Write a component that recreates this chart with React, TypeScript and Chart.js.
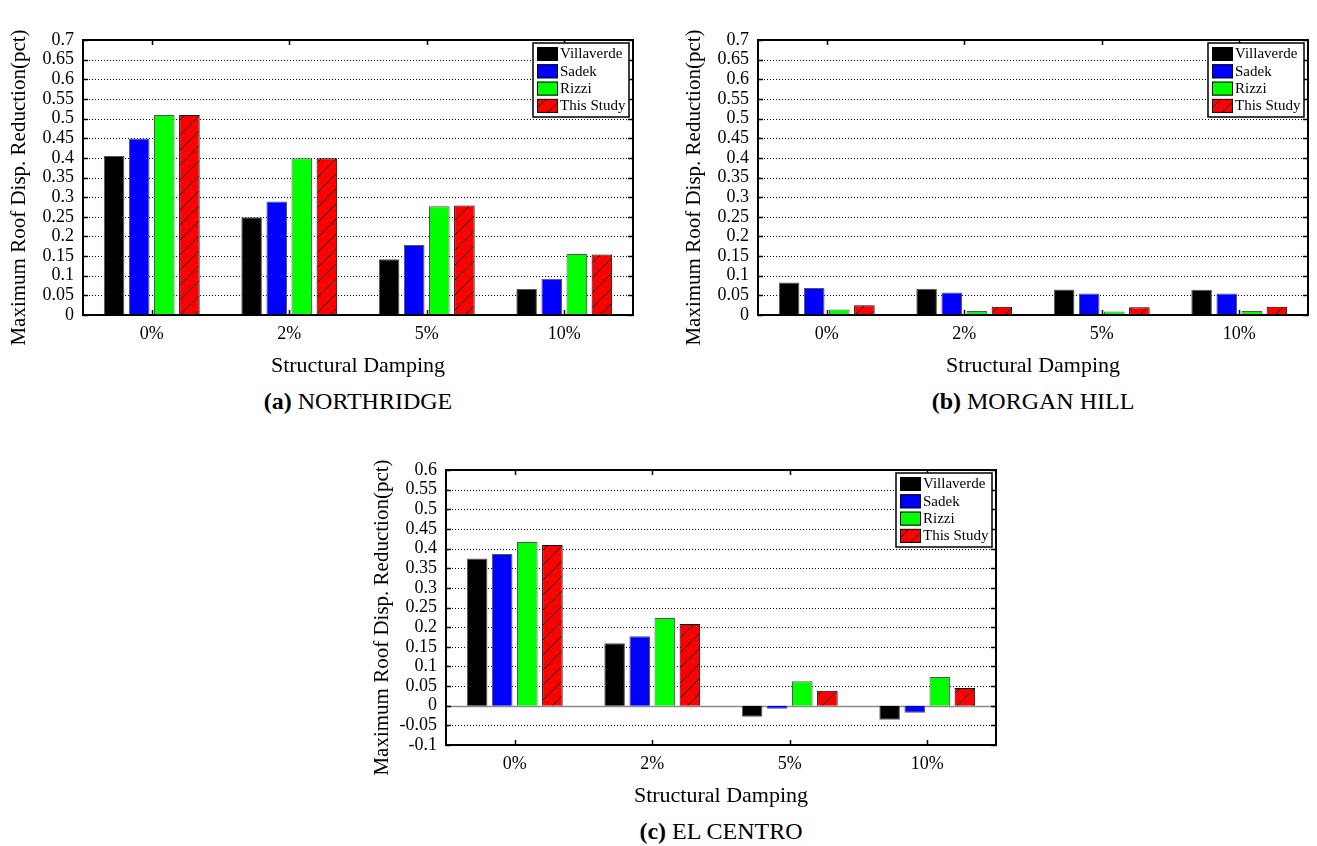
import React, { useEffect, useRef } from 'react';
import { Chart, registerables } from 'chart.js';

Chart.register(...registerables);

// ---------- data ----------
const categories = ['0%', '2%', '5%', '10%'];
const seriesNames = ['Villaverde', 'Sadek', 'Rizzi', 'This Study'];

// (a) NORTHRIDGE
const villaverdeA = [0.405, 0.249, 0.142, 0.066];
const sadekA = [0.449, 0.289, 0.178, 0.092];
const rizziA = [0.509, 0.399, 0.277, 0.155];
const thisStudyA = [0.509, 0.399, 0.279, 0.154];

// (b) MORGAN HILL
const villaverdeB = [0.083, 0.067, 0.065, 0.064];
const sadekB = [0.069, 0.057, 0.055, 0.055];
const rizziB = [0.014, 0.010, 0.009, 0.010];
const thisStudyB = [0.025, 0.021, 0.020, 0.021];

// (c) EL CENTRO
const villaverdeC = [0.375, 0.159, -0.028, -0.036];
const sadekC = [0.386, 0.177, -0.008, -0.018];
const rizziC = [0.417, 0.223, 0.062, 0.073];
const thisStudyC = [0.409, 0.208, 0.038, 0.045];

const yTicksAB = [0, 0.05, 0.1, 0.15, 0.2, 0.25, 0.3, 0.35, 0.4, 0.45, 0.5, 0.55, 0.6, 0.65, 0.7];
const yTicksC = [-0.1, -0.05, 0, 0.05, 0.1, 0.15, 0.2, 0.25, 0.3, 0.35, 0.4, 0.45, 0.5, 0.55, 0.6];

const xTitle = 'Structural Damping';
const yTitle = 'Maximum Roof Disp. Reduction(pct)';

// ---------- style ----------
const FONT = '"Liberation Serif", "Times New Roman", serif';
const seriesColors = ['#000000', '#0000ff', '#00ff00', '#ff0000'];

function makeHatch(): CanvasPattern | string {
  const s = 15;
  const c = document.createElement('canvas');
  c.width = s;
  c.height = s;
  const g = c.getContext('2d');
  if (!g) return '#ff0000';
  g.fillStyle = '#ff0000';
  g.fillRect(0, 0, s, s);
  g.strokeStyle = '#000000';
  g.lineWidth = 1;
  g.beginPath();
  g.moveTo(0, s);
  g.lineTo(s, 0);
  g.moveTo(-s / 2, s / 2);
  g.lineTo(s / 2, -s / 2);
  g.moveTo(s / 2, s * 1.5);
  g.lineTo(s * 1.5, s / 2);
  g.stroke();
  return g.createPattern(c, 'repeat') || '#ff0000';
}

const framePlugin = {
  id: 'matlabFrame',
  beforeDatasetsDraw(chart: any) {
    const { ctx, chartArea: a, scales } = chart;
    const y = scales.y;
    ctx.save();
    ctx.strokeStyle = '#000';
    ctx.lineWidth = 1;
    ctx.setLineDash([1, 2]);
    y.ticks.forEach((t: any) => {
      if (t.value <= y.min + 1e-9 || t.value >= y.max - 1e-9) return;
      if (Math.abs(t.value) < 1e-9) return;
      const py = Math.round(y.getPixelForValue(t.value)) + 0.5;
      ctx.beginPath();
      ctx.moveTo(a.left, py);
      ctx.lineTo(a.right, py);
      ctx.stroke();
    });
    ctx.setLineDash([]);
    if (y.min < 0) {
      const p0 = Math.round(y.getPixelForValue(0)) + 0.5;
      ctx.strokeStyle = '#8a8a8a';
      ctx.lineWidth = 1.5;
      ctx.beginPath();
      ctx.moveTo(a.left, p0);
      ctx.lineTo(a.right, p0);
      ctx.stroke();
    }
    ctx.restore();
  },
  afterDraw(chart: any) {
    const { ctx, chartArea: a, scales } = chart;
    const x = scales.x;
    const y = scales.y;
    ctx.save();
    // tick marks (inward)
    ctx.strokeStyle = '#000';
    ctx.lineWidth = 1.5;
    const tl = 5;
    y.ticks.forEach((t: any) => {
      const py = Math.round(y.getPixelForValue(t.value)) + 0.5;
      ctx.beginPath();
      ctx.moveTo(a.left, py);
      ctx.lineTo(a.left + tl, py);
      ctx.moveTo(a.right, py);
      ctx.lineTo(a.right - tl, py);
      ctx.stroke();
    });
    x.ticks.forEach((_t: any, i: number) => {
      const px = Math.round(x.getPixelForTick(i)) + 0.5;
      ctx.beginPath();
      ctx.moveTo(px, a.top);
      ctx.lineTo(px, a.top + tl);
      ctx.moveTo(px, a.bottom);
      ctx.lineTo(px, a.bottom - tl);
      ctx.stroke();
    });
    // frame
    ctx.lineWidth = 2;
    ctx.strokeRect(a.left, a.top, a.right - a.left, a.bottom - a.top);

    // y-axis title (rotated)
    ctx.save();
    ctx.fillStyle = '#000';
    ctx.font = `21px ${FONT}`;
    ctx.textAlign = 'center';
    ctx.textBaseline = 'middle';
    ctx.translate(19, (a.top + a.bottom) / 2 + 10);
    ctx.rotate(-Math.PI / 2);
    ctx.fillText(yTitle, 0, 0);
    ctx.restore();

    // legend box
    const bw = 96;
    const bh = 74;
    const bx = a.right - 4 - bw;
    const by = a.top + 3;
    ctx.fillStyle = '#fff';
    ctx.fillRect(bx, by, bw, bh);
    ctx.lineWidth = 1.5;
    ctx.strokeStyle = '#000';
    ctx.strokeRect(bx, by, bw, bh);
    ctx.font = `15px ${FONT}`;
    ctx.textBaseline = 'middle';
    ctx.textAlign = 'left';
    chart.data.datasets.forEach((ds: any, i: number) => {
      const ry = by + 4 + i * 17.3;
      ctx.fillStyle = ds.backgroundColor;
      ctx.fillRect(bx + 4, ry, 21, 14);
      ctx.lineWidth = 1;
      ctx.strokeStyle = '#000';
      ctx.strokeRect(bx + 4.5, ry + 0.5, 20, 13);
      ctx.fillStyle = '#000';
      ctx.fillText(ds.label, bx + 27, ry + 7.5);
    });
    ctx.restore();
  },
};

function fmt(v: number) {
  const r = Math.round(v * 100) / 100;
  return String(r);
}

type PanelDef = {
  left: number;
  top: number;
  w: number;
  h: number;
  padRight: number;
  values: number[][];
  yTicks: number[];
  capLetter: string;
  capText: string;
};

const PLOT_LEFT = 83;
const PLOT_TOP = 40;
const XAXIS_H = 70;

const panels: PanelDef[] = [
  { left: 0, top: 0, w: 660, h: 385, padRight: 27, values: [villaverdeA, sadekA, rizziA, thisStudyA], yTicks: yTicksAB, capLetter: '(a)', capText: 'NORTHRIDGE' },
  { left: 675, top: 0, w: 642, h: 385, padRight: 9, values: [villaverdeB, sadekB, rizziB, thisStudyB], yTicks: yTicksAB, capLetter: '(b)', capText: 'MORGAN HILL' },
  { left: 363, top: 430, w: 660, h: 385, padRight: 27, values: [villaverdeC, sadekC, rizziC, thisStudyC], yTicks: yTicksC, capLetter: '(c)', capText: 'EL CENTRO' },
];

function PanelChart({ p }: { p: PanelDef }) {
  const ref = useRef<HTMLCanvasElement | null>(null);
  useEffect(() => {
    if (!ref.current) return;
    const hatch = makeHatch();
    const ticks = p.yTicks;
    const chart = new Chart(ref.current, {
      type: 'bar',
      data: {
        labels: categories,
        datasets: p.values.map((vals, i) => ({
          label: seriesNames[i],
          data: vals,
          backgroundColor: i === 3 ? (hatch as any) : seriesColors[i],
          borderColor: i === 3 ? '#000' : '#555555',
          borderWidth: 1,
          categoryPercentage: 0.73,
          barPercentage: 0.82,
        })),
      },
      options: {
        animation: false,
        responsive: false,
        maintainAspectRatio: false,
        devicePixelRatio: 1,
        layout: { padding: { top: PLOT_TOP, right: p.padRight, left: 0, bottom: 0 } },
        plugins: { legend: { display: false }, tooltip: { enabled: false } },
        scales: {
          x: {
            grid: { display: false, drawTicks: false },
            border: { display: false },
            ticks: { color: '#000', font: { family: FONT, size: 18 }, padding: 8, autoSkip: false, maxRotation: 0 },
            title: { display: true, text: xTitle, color: '#000', font: { family: FONT, size: 22 }, padding: { top: 0, bottom: 6 } },
            afterFit: (s: any) => {
              s.height = XAXIS_H;
            },
          },
          y: {
            min: ticks[0],
            max: ticks[ticks.length - 1],
            grid: { display: false, drawTicks: false },
            border: { display: false },
            ticks: {
              color: '#000',
              font: { family: FONT, size: 18, lineHeight: 1 },
              padding: 9,
              autoSkip: false,
              callback: (v: any) => fmt(Number(v)),
            },
            afterBuildTicks: (s: any) => {
              s.ticks = ticks.map((v) => ({ value: v }));
            },
            title: { display: false, text: yTitle },
            afterFit: (s: any) => {
              s.width = PLOT_LEFT;
            },
          },
        },
      },
      plugins: [framePlugin],
    } as any);
    return () => chart.destroy();
  }, [p]);

  const plotCenter = p.left + PLOT_LEFT + (p.w - p.padRight - PLOT_LEFT) / 2;
  return (
    <>
      <canvas
        ref={ref}
        width={p.w}
        height={p.h}
        style={{ position: 'absolute', left: p.left, top: p.top, width: p.w, height: p.h }}
      />
      <div
        style={{
          position: 'absolute',
          left: plotCenter - 200,
          top: p.top + p.h + 2,
          width: 400,
          textAlign: 'center',
          fontFamily: FONT,
          fontSize: 24,
          lineHeight: '28px',
          color: '#000',
          whiteSpace: 'nowrap',
        }}
      >
        <b>{p.capLetter}</b> {p.capText}
      </div>
    </>
  );
}

export default function App() {
  return (
    <div
      style={{
        position: 'absolute',
        left: 0,
        top: 0,
        width: 1317,
        height: 846,
        background: '#fff',
        overflow: 'hidden',
      }}
    >
      {panels.map((p, i) => (
        <PanelChart key={i} p={p} />
      ))}
    </div>
  );
}
